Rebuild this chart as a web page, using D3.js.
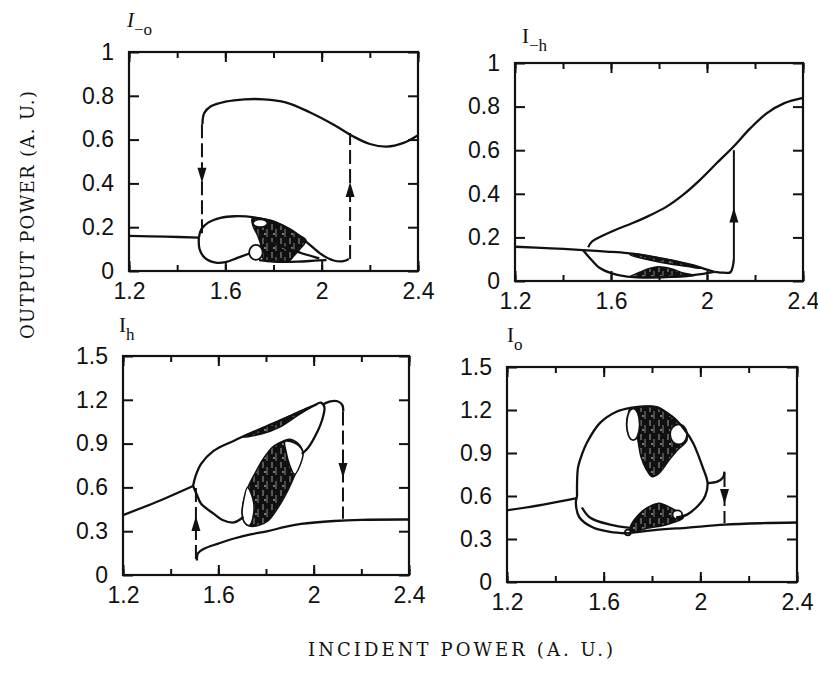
<!DOCTYPE html>
<html>
<head>
<meta charset="utf-8">
<script src="https://cdn.jsdelivr.net/npm/d3@7"></script>
<style>
body{margin:0;background:#fff;}
</style>
</head>
<body>
<script>
//ticks
var xTicks = [1.2,1.4,1.6,1.8,2.0,2.2,2.4];
var xLabels = [1.2,1.6,2,2.4];
var yTicksTop = [0,0.2,0.4,0.6,0.8,1];
var yTicksBottom = [0,0.3,0.6,0.9,1.2,1.5];

//I_-o  (top left)
var moLower = [[1.2,0.16],[1.35,0.157],[1.49,0.152]];
var moUpper = [[1.505,0.67],[1.512,0.72],[1.54,0.752],[1.6,0.773],[1.68,0.784],[1.76,0.784],[1.85,0.77],[1.95,0.725],[2.05,0.668],[2.13,0.615],[2.2,0.58],[2.27,0.568],[2.34,0.585],[2.4,0.62]];
var moBubbleTop = [[1.49,0.152],[1.5,0.19],[1.53,0.222],[1.58,0.243],[1.64,0.25],[1.72,0.245],[1.8,0.225],[1.87,0.19],[1.94,0.13],[2.0,0.075],[2.05,0.048],[2.09,0.045],[2.113,0.055]];
var moBubbleLow = [[1.49,0.152],[1.493,0.1],[1.515,0.06],[1.56,0.038],[1.6,0.04],[1.65,0.06],[1.7,0.08]];
var moBottom = [[1.74,0.05],[1.8,0.043],[1.9,0.043],[1.97,0.047],[2.02,0.05]];
var moInner = [[1.76,0.14],[1.84,0.11],[1.92,0.08],[1.99,0.058]];
var moChaos = [[1.712,0.24],[1.78,0.234],[1.84,0.208],[1.9,0.168],[1.935,0.14],[1.91,0.1],[1.885,0.07],[1.865,0.046],[1.8,0.044],[1.76,0.05],[1.752,0.1],[1.735,0.16],[1.715,0.205]];
var moWindows = [[1.745,0.218,0.03,0.018],[1.727,0.085,0.028,0.034]];
var moJumps = [{x:1.503,from:0.67,to:0.155,arrow:0.44,dir:-1,dash:true},{x:2.118,from:0.055,to:0.63,arrow:0.37,dir:1,dash:true}];

//I_-h  (top right)
var mhLower = [[1.2,0.157],[1.35,0.15],[1.483,0.142]];
var mhBand = [[1.483,0.142],[1.58,0.135],[1.667,0.128],[1.74,0.118],[1.8,0.105],[1.87,0.09],[1.94,0.073],[2.0,0.052],[2.03,0.042]];
var mhBubbleLow = [[1.483,0.142],[1.52,0.095],[1.55,0.062],[1.6,0.036],[1.667,0.02],[1.75,0.017],[1.85,0.02],[1.95,0.028],[2.03,0.042]];
var mhRight = [[2.03,0.042],[2.07,0.038],[2.098,0.04],[2.108,0.07],[2.112,0.1]];
var mhUpper = [[1.505,0.155],[1.52,0.18],[1.56,0.205],[1.62,0.235],[1.69,0.266],[1.76,0.3],[1.83,0.34],[1.9,0.395],[1.97,0.463],[2.04,0.54],[2.11,0.616],[2.18,0.7],[2.25,0.77],[2.32,0.815],[2.4,0.84]];
var mhSliver = [[1.68,0.125],[1.76,0.114],[1.84,0.098],[1.92,0.078],[1.98,0.057],[1.92,0.066],[1.84,0.079],[1.76,0.096],[1.68,0.12]];
var mhBump = [[1.68,0.02],[1.72,0.04],[1.76,0.058],[1.8,0.065],[1.85,0.056],[1.9,0.037],[1.95,0.026],[1.85,0.017],[1.75,0.015]];
var mhJumps = [{x:2.112,from:0.1,to:0.6,arrow:0.3,dir:1,dash:false}];

//I_h  (bottom left)
var hLeft = [[1.2,0.41],[1.34,0.5],[1.494,0.61]];
var hBubble = [[1.494,0.61],[1.505,0.68],[1.527,0.76],[1.58,0.85],[1.666,0.92],[1.79,1.01],[1.905,1.09],[2.0,1.16],[2.03,1.18],[2.045,1.15],[2.035,1.06],[2.018,0.99],[1.976,0.87],[1.95,0.83]];
var hLobe = [[2.04,1.17],[2.07,1.19],[2.1,1.19],[2.12,1.165],[2.124,1.12]];
var hBubbleLow = [[1.494,0.61],[1.51,0.55],[1.527,0.49],[1.58,0.42],[1.62,0.375],[1.666,0.36],[1.695,0.385],[1.705,0.4]];
var hLower = [[1.51,0.1],[1.515,0.15],[1.54,0.18],[1.6,0.215],[1.666,0.25],[1.74,0.28],[1.808,0.3],[1.88,0.33],[1.947,0.35],[2.085,0.37],[2.2,0.378],[2.4,0.38]];
var hSliver = [[1.7,0.945],[1.78,1.0],[1.86,1.06],[1.94,1.12],[2.0,1.16],[1.94,1.1],[1.86,1.015],[1.78,0.965]];
var hChaos = [[1.876,0.92],[1.83,0.88],[1.79,0.8],[1.755,0.7],[1.724,0.6],[1.705,0.5],[1.7,0.42],[1.71,0.36],[1.73,0.335],[1.77,0.34],[1.808,0.37],[1.85,0.46],[1.892,0.58],[1.92,0.68],[1.945,0.78],[1.955,0.84],[1.935,0.9],[1.9,0.93]];
var hWinLeft = [[1.722,0.6],[1.705,0.5],[1.7,0.42],[1.71,0.36],[1.73,0.34],[1.748,0.42],[1.745,0.52]];
var hWinRight = [[1.88,0.915],[1.93,0.895],[1.955,0.84],[1.945,0.76],[1.92,0.69],[1.9,0.75],[1.885,0.84]];
var hJumps = [{x:1.506,from:0.11,to:0.6,arrow:0.35,dir:1,dash:true},{x:2.123,from:1.12,to:0.385,arrow:0.72,dir:-1,dash:true}];

//I_o  (bottom right)
var oLeft = [[1.2,0.5],[1.35,0.54],[1.49,0.585]];
var oBubble = [[1.49,0.6],[1.49,0.7],[1.494,0.8],[1.51,0.89],[1.53,0.97],[1.585,1.11],[1.655,1.19],[1.71,1.215],[1.77,1.225],[1.82,1.22],[1.87,1.17],[1.9,1.13],[1.94,1.05],[1.97,0.97],[2.01,0.8],[2.03,0.69],[2.02,0.6],[2.0,0.55],[1.945,0.47],[1.9,0.45]];
var oBubbleLow = [[1.49,0.6],[1.485,0.55],[1.5,0.45],[1.556,0.38],[1.626,0.35],[1.697,0.34]];
var oInner = [[1.51,0.52],[1.543,0.45],[1.626,0.4],[1.71,0.377]];
var oLower = [[1.697,0.34],[1.8,0.36],[1.95,0.38],[2.1,0.4],[2.25,0.41],[2.4,0.415]];
var oRight = [[2.03,0.69],[2.07,0.7],[2.094,0.73],[2.1,0.77]];
var oChaosTop = [[1.705,1.2],[1.77,1.225],[1.82,1.22],[1.87,1.17],[1.9,1.13],[1.935,1.06],[1.945,0.99],[1.905,0.92],[1.875,0.86],[1.83,0.76],[1.8,0.735],[1.775,0.79],[1.755,0.87],[1.74,1.0],[1.72,1.12]];
var oChaosLow = [[1.71,0.38],[1.75,0.48],[1.805,0.54],[1.83,0.55],[1.875,0.52],[1.915,0.48],[1.93,0.45],[1.86,0.4],[1.78,0.375],[1.717,0.35]];
var oWindows = [[1.722,1.1,0.027,0.11],[1.91,1.03,0.035,0.07],[1.905,0.47,0.02,0.03],[1.70,0.345,0.012,0.02]];
var oJumps = [{x:2.1,from:0.76,to:0.41,arrow:0.6,dir:-1,dash:true}];

//panel layout
var panels = [
	{left:129,right:418,top:52,bottom:271,yDomain:[0,1],yTicks:yTicksTop,title:['I','\u2212o'],italic:true,tx:127,ty:27,
	 chaos:[moChaos],windows:[],ellipses:moWindows,curves:[moLower,moUpper,moBubbleTop,moBubbleLow,moBottom,moInner],jumps:moJumps},
	{left:515,right:803,top:63,bottom:281,yDomain:[0,1],yTicks:yTicksTop,title:['I','\u2212h'],italic:false,tx:522,ty:43,
	 chaos:[mhSliver,mhBump],windows:[],ellipses:[],curves:[mhLower,mhBand,mhBubbleLow,mhRight,mhUpper],jumps:mhJumps},
	{left:123,right:409,top:356,bottom:575,yDomain:[0,1.5],yTicks:yTicksBottom,title:['I','h'],italic:false,tx:119,ty:332,
	 chaos:[hSliver,hChaos],windows:[hWinLeft,hWinRight],ellipses:[],curves:[hLeft,hBubble,hLobe,hBubbleLow,hLower],jumps:hJumps},
	{left:507,right:797,top:367,bottom:582,yDomain:[0,1.5],yTicks:yTicksBottom,title:['I','o'],italic:false,tx:507,ty:342,
	 chaos:[oChaosTop,oChaosLow],windows:[],ellipses:oWindows,curves:[oLeft,oBubble,oBubbleLow,oInner,oLower,oRight],jumps:oJumps}
];

var svg = d3.select('body').append('svg')
			.attr('width',818)
			.attr('height',673);

//speckled fill for chaotic bands
var pat = svg.append('defs').append('pattern')
			.attr('id','speckle')
			.attr('patternUnits','userSpaceOnUse')
			.attr('width',9).attr('height',14);
pat.append('rect').attr('width',9).attr('height',14).attr('fill','#101010');
pat.append('line').attr('x1',2).attr('x2',2).attr('y1',0).attr('y2',6).attr('stroke','#fff').attr('stroke-width',1).attr('opacity',0.6);
pat.append('line').attr('x1',6).attr('x2',6).attr('y1',5).attr('y2',13).attr('stroke','#fff').attr('stroke-width',1.1).attr('opacity',0.45);
pat.append('circle').attr('cx',4).attr('cy',10).attr('r',0.8).attr('fill','#fff');

panels.forEach(function(p){ drawPanel(p); });

//axis titles
svg.append('text')
	.attr('transform','translate(34,215) rotate(-90)')
	.attr('text-anchor','middle')
	.attr('textLength',248).attr('lengthAdjust','spacing')
	.attr('fill','#111')
	.style('font-family','"DejaVu Serif", serif')
	.style('font-size','18px')
	.text('OUTPUT POWER (A. U.)');

svg.append('text')
	.attr('x',308).attr('y',656)
	.attr('textLength',305).attr('lengthAdjust','spacing')
	.attr('fill','#111')
	.style('font-family','"DejaVu Serif", serif')
	.style('font-size','18px')
	.text('INCIDENT POWER (A. U.)');

//draws one panel
function drawPanel(p){
	var g = svg.append('g');
	var x = d3.scaleLinear().domain([1.2,2.4]).range([p.left,p.right]);
	var y = d3.scaleLinear().domain(p.yDomain).range([p.bottom,p.top]);
	var h = p.bottom - p.top, w = p.right - p.left;

	var line = d3.line().x(function(d){return x(d[0])}).y(function(d){return y(d[1])})
				.curve(d3.curveCatmullRom.alpha(0.5));
	var closed = d3.line().x(function(d){return x(d[0])}).y(function(d){return y(d[1])})
				.curve(d3.curveCatmullRomClosed.alpha(0.5));

	//axes, ticks pointing inward
	g.append('g').attr('transform','translate(0,'+p.bottom+')')
		.call(d3.axisBottom(x).tickValues(xTicks).tickSize(-6).tickFormat(''));
	g.append('g').attr('transform','translate(0,'+p.bottom+')')
		.call(d3.axisBottom(x).tickValues(xLabels).tickSize(-10).tickPadding(12).tickFormat(function(d){return String(d)}));
	g.append('g').attr('transform','translate(0,'+p.top+')')
		.call(d3.axisTop(x).tickValues(xTicks).tickSize(-6).tickFormat(''));
	g.append('g').attr('transform','translate(0,'+p.top+')')
		.call(d3.axisTop(x).tickValues(xLabels).tickSize(-10).tickFormat(''));
	g.append('g').attr('transform','translate('+p.left+',0)')
		.call(d3.axisLeft(y).tickValues(p.yTicks).tickSize(-10).tickPadding(15).tickFormat(function(d){return String(d)}));
	g.append('g').attr('transform','translate('+p.right+',0)')
		.call(d3.axisRight(y).tickValues(p.yTicks).tickSize(-10).tickFormat(''));

	g.selectAll('.domain').remove();
	g.selectAll('.tick line').attr('stroke','#111').attr('stroke-width',2);
	g.selectAll('.tick text')
		.attr('fill','#111')
		.style('font-family','"Liberation Sans", Arial, sans-serif')
		.style('font-size','23px');

	//frame
	g.append('rect')
		.attr('x',p.left).attr('y',p.top)
		.attr('width',w).attr('height',h)
		.attr('fill','none')
		.attr('stroke','#111')
		.attr('stroke-width',2.2);

	//title
	var t = g.append('text')
		.attr('x',p.tx).attr('y',p.ty)
		.style('font-family','"Liberation Serif", "DejaVu Serif", serif')
		.attr('fill','#111');
	t.append('tspan').text(p.title[0])
		.style('font-size','21px')
		.style('font-style',p.italic ? 'italic' : 'normal');
	t.append('tspan').text(p.title[1])
		.attr('dy',8)
		.style('font-size','17px');

	//chaotic regions
	p.chaos.forEach(function(c){
		g.append('path').attr('d',closed(c))
			.attr('fill','url(#speckle)')
			.attr('stroke','#111')
			.attr('stroke-width',1.5);
	});
	//periodic windows
	p.windows.forEach(function(c){
		g.append('path').attr('d',closed(c))
			.attr('fill','#fff')
			.attr('stroke','#111')
			.attr('stroke-width',1.5);
	});
	p.ellipses.forEach(function(e){
		g.append('ellipse')
			.attr('cx',x(e[0])).attr('cy',y(e[1]))
			.attr('rx',x(e[0]+e[2])-x(e[0]))
			.attr('ry',y(e[1])-y(e[1]+e[3]))
			.attr('fill','#fff')
			.attr('stroke','#111')
			.attr('stroke-width',1.8);
	});

	//branches
	p.curves.forEach(function(c){
		g.append('path').attr('d',line(c))
			.attr('fill','none')
			.attr('stroke','#111')
			.attr('stroke-width',2.3)
			.attr('stroke-linejoin','round');
	});

	//jumps with arrows
	p.jumps.forEach(function(j){
		g.append('line')
			.attr('x1',x(j.x)).attr('x2',x(j.x))
			.attr('y1',y(j.from)).attr('y2',y(j.to))
			.attr('stroke','#111')
			.attr('stroke-width',2)
			.attr('stroke-dasharray',j.dash ? '14,5' : null);
		var ax = x(j.x), ay = y(j.arrow);
		var pts = j.dir > 0
			? [[ax,ay-8],[ax-4.5,ay+7],[ax+4.5,ay+7]]
			: [[ax,ay+8],[ax-4.5,ay-7],[ax+4.5,ay-7]];
		g.append('polygon')
			.attr('points',pts.map(function(q){return q.join(',')}).join(' '))
			.attr('fill','#111');
	});
}
</script>
</body>
</html>
